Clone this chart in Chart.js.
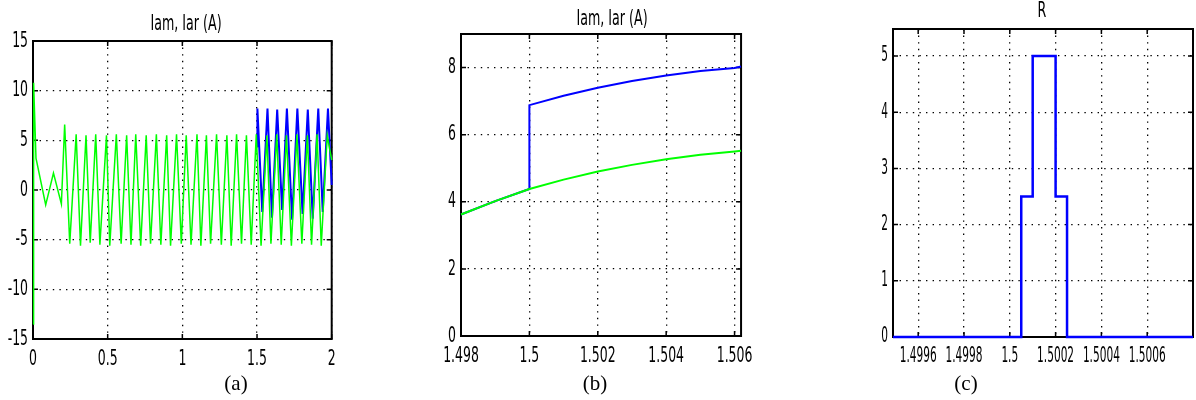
<!DOCTYPE html>
<html>
<head>
<meta charset="utf-8">
<script src="https://cdn.jsdelivr.net/npm/chart.js@4.4.1/dist/chart.umd.min.js"></script>
<style>
  body { margin: 0; background: #fff; width: 1196px; height: 400px; position: relative; overflow: hidden; }
  .panel { position: absolute; top: 0; height: 400px; }
  .ttl { position: absolute; transform: translate(-50%, -50%) scaleX(0.64); white-space: nowrap; color: #000;
         font-family: "Liberation Sans Narrow", "Arial Narrow", "DejaVu Sans Condensed", sans-serif; font-size: 22px; }
  .cap { position: absolute; transform: translate(-50%, -50%); white-space: nowrap; color: #000;
         font-family: "Liberation Serif", "Times New Roman", serif; font-size: 21px; }
</style>
</head>
<body>
<div class="panel" style="left:0;width:345px"><canvas id="chartA"></canvas></div>
<div class="panel" style="left:345px;width:425px"><canvas id="chartB"></canvas></div>
<div class="panel" style="left:770px;width:426px"><canvas id="chartC"></canvas></div>

<div class="ttl" style="left:186px;top:22px">Iam, Iar (A)</div>
<div class="ttl" style="left:612px;top:17px">Iam, Iar (A)</div>
<div class="ttl" style="left:1042px;top:9px">R</div>
<div class="cap" style="left:236px;top:383px">(a)</div>
<div class="cap" style="left:595px;top:383px">(b)</div>
<div class="cap" style="left:966px;top:383px">(c)</div>

<script>
// (a) full run, 0..2 s
const aGreenTime = [0, 0.004, 0.02, 0.085, 0.137, 0.19, 0.212,
  0.246, 0.289, 0.318, 0.355, 0.383, 0.42, 0.448, 0.492, 0.514, 0.558,
  0.59, 0.627, 0.656, 0.688, 0.721, 0.758, 0.787, 0.826, 0.856, 0.895,
  0.921, 0.961, 0.993, 1.026, 1.058, 1.098, 1.124, 1.161, 1.189, 1.229,
  1.261, 1.298, 1.327, 1.363, 1.396, 1.429, 1.461, 1.495, 1.527, 1.566,
  1.593, 1.632, 1.662, 1.697, 1.73, 1.767, 1.8, 1.837, 1.865, 1.902,
  1.93, 1.97, 2.0];
const aGreen = [-13.5, 10.8, 3.2, -1.5, 1.7, -1.4, 6.6,
  -5.4, 5.6, -5.6, 5.5, -5.3, 5.6, -5.5, 5.5, -5.6, 5.6,
  -5.4, 5.5, -5.5, 5.6, -5.6, 5.5, -5.4, 5.6, -5.5, 5.5,
  -5.6, 5.6, -5.4, 5.5, -5.5, 5.6, -5.6, 5.5, -5.4, 5.6,
  -5.5, 5.5, -5.6, 5.6, -5.4, 5.5, -5.5, 5.6, -5.6, 5.5,
  -5.4, 5.6, -5.5, 5.5, -5.6, 5.6, -5.4, 5.5, -5.5, 5.6,
  -5.6, 5.5, 3.0];
const aBlueTime = [1.5, 1.5, 1.505, 1.535, 1.57, 1.6, 1.635, 1.668, 1.7,
  1.735, 1.77, 1.805, 1.84, 1.873, 1.91, 1.94, 1.975, 2.0];
const aBlue = [4.4, 6.9, 8.2, -2.2, 8.2, -2.8, 8.1, -2.0, 8.2,
  -3.0, 8.2, -2.4, 8.1, -2.9, 8.2, -2.2, 8.2, 0.5];
const aXTicks = [0, 0.5, 1, 1.5, 2];
const aYTicks = [-15, -10, -5, 0, 5, 10, 15];

// (b) zoom around the switching instant
const bGreenTime = [1.498, 1.499, 1.5, 1.501, 1.502, 1.503, 1.504, 1.505, 1.506, 1.50619];
const bGreen = [3.62, 4.02, 4.38, 4.66, 4.9, 5.1, 5.27, 5.4, 5.5, 5.52];
const bBlueTime = [1.498, 1.499, 1.5, 1.5, 1.501, 1.502, 1.503, 1.504, 1.505, 1.506, 1.50619];
const bBlue = [3.62, 4.02, 4.38, 6.88, 7.16, 7.4, 7.6, 7.76, 7.9, 7.99, 8.03];
const bXTicks = [1.498, 1.5, 1.502, 1.504, 1.506];
const bYTicks = [0, 2, 4, 6, 8];

// (c) resistance pulse
const cTime = [1.49949, 1.50005, 1.50005, 1.5001, 1.5001, 1.5002, 1.5002, 1.50025, 1.50025, 1.5008];
const cR = [0, 0, 2.5, 2.5, 5, 5, 2.5, 2.5, 0, 0];
const cXTicks = [1.4996, 1.4998, 1.5, 1.5002, 1.5004, 1.5006];
const cYTicks = [0, 1, 2, 3, 4, 5];

const TICK_FONT = '"Liberation Sans Narrow", "Arial Narrow", "DejaVu Sans Condensed", sans-serif';

function pts(t, v) { return t.map((x, i) => ({ x: x, y: v[i] })); }

// squeeze tick text horizontally, the source figure uses a tall narrow face
const narrowText = {
  id: 'narrowText',
  beforeDraw(chart, args, opts) {
    const ctx = chart.ctx;
    if (ctx._narrowed) return;
    const orig = ctx.fillText;
    ctx.fillText = function (text, x, y, maxWidth) {
      this.save();
      this.translate(x, y);
      this.scale(opts.sx, 1);
      orig.call(this, text, 0, 0);
      this.restore();
    };
    ctx._narrowed = true;
  }
};

// MATLAB-like box with inward ticks
const boxPlugin = {
  id: 'box',
  beforeDatasetsDraw(chart) {
    const { ctx, chartArea: a } = chart;
    const x = chart.scales.x, y = chart.scales.y;
    ctx.save();
    ctx.strokeStyle = '#000';
    ctx.lineWidth = 1.5;
    ctx.beginPath();
    x.ticks.forEach(t => {
      const p = x.getPixelForValue(t.value);
      ctx.moveTo(p, a.bottom); ctx.lineTo(p, a.bottom - 5);
      ctx.moveTo(p, a.top); ctx.lineTo(p, a.top + 5);
    });
    y.ticks.forEach(t => {
      const p = y.getPixelForValue(t.value);
      ctx.moveTo(a.left, p); ctx.lineTo(a.left + 5, p);
      ctx.moveTo(a.right, p); ctx.lineTo(a.right - 5, p);
    });
    ctx.stroke();
    ctx.lineWidth = 2;
    ctx.strokeRect(a.left, a.top, a.right - a.left, a.bottom - a.top);
    ctx.restore();
  }
};

function makePanel(id, datasets, o) {
  const axis = (min, max, ticks, fit, pad) => ({
    type: 'linear', min: min, max: max,
    afterBuildTicks: s => { s.ticks = ticks.map(v => ({ value: v })); },
    afterFit: fit,
    grid: { color: '#000', lineWidth: 1.3, drawTicks: false },
    border: { display: false, dash: [1.4, 5.2] },
    ticks: {
      autoSkip: false, maxRotation: 0, minRotation: 0, padding: pad,
      color: '#000', font: { family: TICK_FONT, size: o.fontSize },
      callback: v => String(v)
    }
  });
  return new Chart(document.getElementById(id), {
    type: 'scatter',
    data: { datasets: datasets },
    options: {
      responsive: true, maintainAspectRatio: false, animation: false,
      layout: { padding: o.padding },
      plugins: {
        legend: { display: false }, tooltip: { enabled: false }, title: { display: false },
        narrowText: { sx: o.squeeze }
      },
      elements: { point: { radius: 0 }, line: { tension: 0 } },
      scales: {
        x: axis(o.xMin, o.xMax, o.xTicks, s => { s.height = 30; }, 7),
        y: axis(o.yMin, o.yMax, o.yTicks, s => { s.width = o.yWidth; }, 5)
      }
    },
    plugins: [narrowText, boxPlugin]
  });
}

makePanel('chartA', [
  { data: pts(aGreenTime, aGreen), showLine: true, borderColor: '#00ff00', borderWidth: 1.5, order: 0, clip: false },
  { data: pts(aBlueTime, aBlue), showLine: true, borderColor: '#0000ff', borderWidth: 2, order: 1, clip: false }
], { padding: { left: 0, right: 6, top: 41, bottom: 31 }, yWidth: 33, fontSize: 22, squeeze: 0.63,
     xMin: 0, xMax: 2, yMin: -15, yMax: 15, xTicks: aXTicks, yTicks: aYTicks });

makePanel('chartB', [
  { data: pts(bGreenTime, bGreen), showLine: true, borderColor: '#00ff00', borderWidth: 2, order: 0, clip: false },
  { data: pts(bBlueTime, bBlue), showLine: true, borderColor: '#0000ff', borderWidth: 2, order: 1, clip: false }
], { padding: { left: 76, right: 5, top: 34, bottom: 34 }, yWidth: 40, fontSize: 22, squeeze: 0.63,
     xMin: 1.498, xMax: 1.50619, yMin: 0, yMax: 9, xTicks: bXTicks, yTicks: bYTicks });

makePanel('chartC', [
  { data: pts(cTime, cR), showLine: true, borderColor: '#0000ff', borderWidth: 2.5, order: 0, clip: false }
], { padding: { left: 83, right: 3, top: 29, bottom: 33 }, yWidth: 40, fontSize: 21, squeeze: 0.56,
     xMin: 1.49949, xMax: 1.5008, yMin: 0, yMax: 5.48, xTicks: cXTicks, yTicks: cYTicks });
</script>
</body>
</html>
